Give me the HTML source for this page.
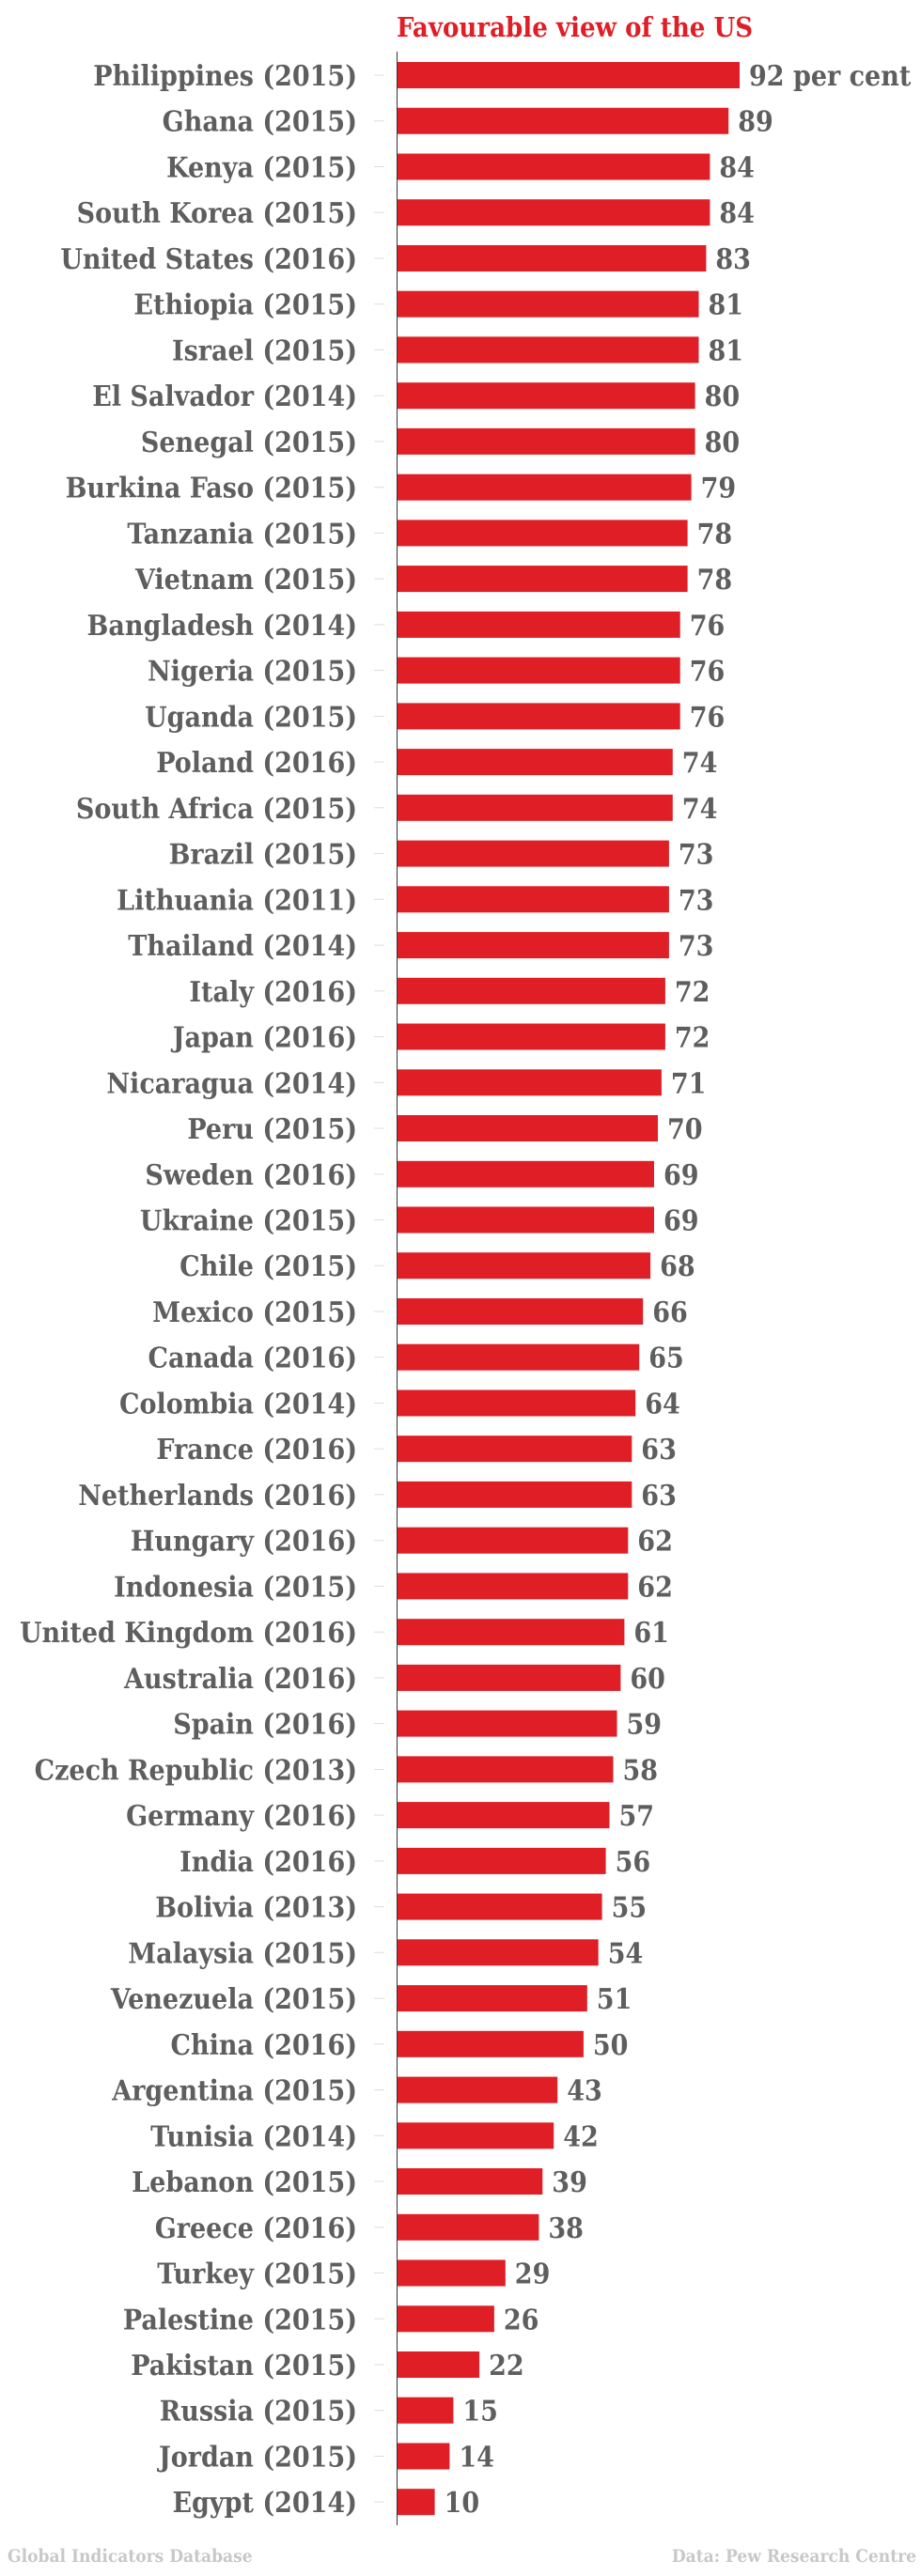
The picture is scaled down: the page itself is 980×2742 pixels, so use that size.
<!DOCTYPE html>
<html><head><meta charset="utf-8"><style>
html,body{margin:0;padding:0;background:#fff;}
svg text{font-family:"DejaVu Serif Condensed","DejaVu Serif","Liberation Serif",serif;font-weight:bold;}
.b{fill:#e01e26}
.t{stroke:#ddd;stroke-width:1}
.l{font-size:30px;fill:#5e5e5e;text-anchor:end}
.v{font-size:30px;fill:#5e5e5e}
</style></head><body>
<svg width="980" height="2737" viewBox="0 0 980 2737" xmlns="http://www.w3.org/2000/svg">
<text x="422" y="39" font-size="29" fill="#e01e26">Favourable view of the US</text>
<line x1="422.5" y1="55" x2="422.5" y2="2688" stroke="#333" stroke-width="1"/>
<g transform="translate(0,66)"><rect class="b" x="423" y="0" width="364" height="28"/><line class="t" x1="398" x2="409" y1="14" y2="14"/><text class="l" x="380" y="25">Philippines (2015)</text><text class="v" x="797" y="25">92 per cent</text></g>
<g transform="translate(0,114.7)"><rect class="b" x="423" y="0" width="352.2" height="28"/><line class="t" x1="398" x2="409" y1="14" y2="14"/><text class="l" x="380" y="25">Ghana (2015)</text><text class="v" x="785.2" y="25">89</text></g>
<g transform="translate(0,163.5)"><rect class="b" x="423" y="0" width="332.4" height="28"/><line class="t" x1="398" x2="409" y1="14" y2="14"/><text class="l" x="380" y="25">Kenya (2015)</text><text class="v" x="765.4" y="25">84</text></g>
<g transform="translate(0,212.2)"><rect class="b" x="423" y="0" width="332.4" height="28"/><line class="t" x1="398" x2="409" y1="14" y2="14"/><text class="l" x="380" y="25">South Korea (2015)</text><text class="v" x="765.4" y="25">84</text></g>
<g transform="translate(0,261)"><rect class="b" x="423" y="0" width="328.4" height="28"/><line class="t" x1="398" x2="409" y1="14" y2="14"/><text class="l" x="380" y="25">United States (2016)</text><text class="v" x="761.4" y="25">83</text></g>
<g transform="translate(0,309.7)"><rect class="b" x="423" y="0" width="320.5" height="28"/><line class="t" x1="398" x2="409" y1="14" y2="14"/><text class="l" x="380" y="25">Ethiopia (2015)</text><text class="v" x="753.5" y="25">81</text></g>
<g transform="translate(0,358.4)"><rect class="b" x="423" y="0" width="320.5" height="28"/><line class="t" x1="398" x2="409" y1="14" y2="14"/><text class="l" x="380" y="25">Israel (2015)</text><text class="v" x="753.5" y="25">81</text></g>
<g transform="translate(0,407.2)"><rect class="b" x="423" y="0" width="316.6" height="28"/><line class="t" x1="398" x2="409" y1="14" y2="14"/><text class="l" x="380" y="25">El Salvador (2014)</text><text class="v" x="749.6" y="25">80</text></g>
<g transform="translate(0,455.9)"><rect class="b" x="423" y="0" width="316.6" height="28"/><line class="t" x1="398" x2="409" y1="14" y2="14"/><text class="l" x="380" y="25">Senegal (2015)</text><text class="v" x="749.6" y="25">80</text></g>
<g transform="translate(0,504.7)"><rect class="b" x="423" y="0" width="312.6" height="28"/><line class="t" x1="398" x2="409" y1="14" y2="14"/><text class="l" x="380" y="25">Burkina Faso (2015)</text><text class="v" x="745.6" y="25">79</text></g>
<g transform="translate(0,553.4)"><rect class="b" x="423" y="0" width="308.6" height="28"/><line class="t" x1="398" x2="409" y1="14" y2="14"/><text class="l" x="380" y="25">Tanzania (2015)</text><text class="v" x="741.6" y="25">78</text></g>
<g transform="translate(0,602.1)"><rect class="b" x="423" y="0" width="308.6" height="28"/><line class="t" x1="398" x2="409" y1="14" y2="14"/><text class="l" x="380" y="25">Vietnam (2015)</text><text class="v" x="741.6" y="25">78</text></g>
<g transform="translate(0,650.9)"><rect class="b" x="423" y="0" width="300.7" height="28"/><line class="t" x1="398" x2="409" y1="14" y2="14"/><text class="l" x="380" y="25">Bangladesh (2014)</text><text class="v" x="733.7" y="25">76</text></g>
<g transform="translate(0,699.6)"><rect class="b" x="423" y="0" width="300.7" height="28"/><line class="t" x1="398" x2="409" y1="14" y2="14"/><text class="l" x="380" y="25">Nigeria (2015)</text><text class="v" x="733.7" y="25">76</text></g>
<g transform="translate(0,748.4)"><rect class="b" x="423" y="0" width="300.7" height="28"/><line class="t" x1="398" x2="409" y1="14" y2="14"/><text class="l" x="380" y="25">Uganda (2015)</text><text class="v" x="733.7" y="25">76</text></g>
<g transform="translate(0,797.1)"><rect class="b" x="423" y="0" width="292.8" height="28"/><line class="t" x1="398" x2="409" y1="14" y2="14"/><text class="l" x="380" y="25">Poland (2016)</text><text class="v" x="725.8" y="25">74</text></g>
<g transform="translate(0,845.8)"><rect class="b" x="423" y="0" width="292.8" height="28"/><line class="t" x1="398" x2="409" y1="14" y2="14"/><text class="l" x="380" y="25">South Africa (2015)</text><text class="v" x="725.8" y="25">74</text></g>
<g transform="translate(0,894.6)"><rect class="b" x="423" y="0" width="288.9" height="28"/><line class="t" x1="398" x2="409" y1="14" y2="14"/><text class="l" x="380" y="25">Brazil (2015)</text><text class="v" x="721.9" y="25">73</text></g>
<g transform="translate(0,943.3)"><rect class="b" x="423" y="0" width="288.9" height="28"/><line class="t" x1="398" x2="409" y1="14" y2="14"/><text class="l" x="380" y="25">Lithuania (2011)</text><text class="v" x="721.9" y="25">73</text></g>
<g transform="translate(0,992.1)"><rect class="b" x="423" y="0" width="288.9" height="28"/><line class="t" x1="398" x2="409" y1="14" y2="14"/><text class="l" x="380" y="25">Thailand (2014)</text><text class="v" x="721.9" y="25">73</text></g>
<g transform="translate(0,1040.8)"><rect class="b" x="423" y="0" width="284.9" height="28"/><line class="t" x1="398" x2="409" y1="14" y2="14"/><text class="l" x="380" y="25">Italy (2016)</text><text class="v" x="717.9" y="25">72</text></g>
<g transform="translate(0,1089.5)"><rect class="b" x="423" y="0" width="284.9" height="28"/><line class="t" x1="398" x2="409" y1="14" y2="14"/><text class="l" x="380" y="25">Japan (2016)</text><text class="v" x="717.9" y="25">72</text></g>
<g transform="translate(0,1138.3)"><rect class="b" x="423" y="0" width="280.9" height="28"/><line class="t" x1="398" x2="409" y1="14" y2="14"/><text class="l" x="380" y="25">Nicaragua (2014)</text><text class="v" x="713.9" y="25">71</text></g>
<g transform="translate(0,1187)"><rect class="b" x="423" y="0" width="277" height="28"/><line class="t" x1="398" x2="409" y1="14" y2="14"/><text class="l" x="380" y="25">Peru (2015)</text><text class="v" x="710" y="25">70</text></g>
<g transform="translate(0,1235.8)"><rect class="b" x="423" y="0" width="273" height="28"/><line class="t" x1="398" x2="409" y1="14" y2="14"/><text class="l" x="380" y="25">Sweden (2016)</text><text class="v" x="706" y="25">69</text></g>
<g transform="translate(0,1284.5)"><rect class="b" x="423" y="0" width="273" height="28"/><line class="t" x1="398" x2="409" y1="14" y2="14"/><text class="l" x="380" y="25">Ukraine (2015)</text><text class="v" x="706" y="25">69</text></g>
<g transform="translate(0,1333.2)"><rect class="b" x="423" y="0" width="269.1" height="28"/><line class="t" x1="398" x2="409" y1="14" y2="14"/><text class="l" x="380" y="25">Chile (2015)</text><text class="v" x="702.1" y="25">68</text></g>
<g transform="translate(0,1382)"><rect class="b" x="423" y="0" width="261.2" height="28"/><line class="t" x1="398" x2="409" y1="14" y2="14"/><text class="l" x="380" y="25">Mexico (2015)</text><text class="v" x="694.2" y="25">66</text></g>
<g transform="translate(0,1430.7)"><rect class="b" x="423" y="0" width="257.2" height="28"/><line class="t" x1="398" x2="409" y1="14" y2="14"/><text class="l" x="380" y="25">Canada (2016)</text><text class="v" x="690.2" y="25">65</text></g>
<g transform="translate(0,1479.5)"><rect class="b" x="423" y="0" width="253.2" height="28"/><line class="t" x1="398" x2="409" y1="14" y2="14"/><text class="l" x="380" y="25">Colombia (2014)</text><text class="v" x="686.2" y="25">64</text></g>
<g transform="translate(0,1528.2)"><rect class="b" x="423" y="0" width="249.3" height="28"/><line class="t" x1="398" x2="409" y1="14" y2="14"/><text class="l" x="380" y="25">France (2016)</text><text class="v" x="682.3" y="25">63</text></g>
<g transform="translate(0,1576.9)"><rect class="b" x="423" y="0" width="249.3" height="28"/><line class="t" x1="398" x2="409" y1="14" y2="14"/><text class="l" x="380" y="25">Netherlands (2016)</text><text class="v" x="682.3" y="25">63</text></g>
<g transform="translate(0,1625.7)"><rect class="b" x="423" y="0" width="245.3" height="28"/><line class="t" x1="398" x2="409" y1="14" y2="14"/><text class="l" x="380" y="25">Hungary (2016)</text><text class="v" x="678.3" y="25">62</text></g>
<g transform="translate(0,1674.4)"><rect class="b" x="423" y="0" width="245.3" height="28"/><line class="t" x1="398" x2="409" y1="14" y2="14"/><text class="l" x="380" y="25">Indonesia (2015)</text><text class="v" x="678.3" y="25">62</text></g>
<g transform="translate(0,1723.2)"><rect class="b" x="423" y="0" width="241.4" height="28"/><line class="t" x1="398" x2="409" y1="14" y2="14"/><text class="l" x="380" y="25">United Kingdom (2016)</text><text class="v" x="674.4" y="25">61</text></g>
<g transform="translate(0,1771.9)"><rect class="b" x="423" y="0" width="237.4" height="28"/><line class="t" x1="398" x2="409" y1="14" y2="14"/><text class="l" x="380" y="25">Australia (2016)</text><text class="v" x="670.4" y="25">60</text></g>
<g transform="translate(0,1820.6)"><rect class="b" x="423" y="0" width="233.5" height="28"/><line class="t" x1="398" x2="409" y1="14" y2="14"/><text class="l" x="380" y="25">Spain (2016)</text><text class="v" x="666.5" y="25">59</text></g>
<g transform="translate(0,1869.4)"><rect class="b" x="423" y="0" width="229.5" height="28"/><line class="t" x1="398" x2="409" y1="14" y2="14"/><text class="l" x="380" y="25">Czech Republic (2013)</text><text class="v" x="662.5" y="25">58</text></g>
<g transform="translate(0,1918.1)"><rect class="b" x="423" y="0" width="225.5" height="28"/><line class="t" x1="398" x2="409" y1="14" y2="14"/><text class="l" x="380" y="25">Germany (2016)</text><text class="v" x="658.5" y="25">57</text></g>
<g transform="translate(0,1966.9)"><rect class="b" x="423" y="0" width="221.6" height="28"/><line class="t" x1="398" x2="409" y1="14" y2="14"/><text class="l" x="380" y="25">India (2016)</text><text class="v" x="654.6" y="25">56</text></g>
<g transform="translate(0,2015.6)"><rect class="b" x="423" y="0" width="217.6" height="28"/><line class="t" x1="398" x2="409" y1="14" y2="14"/><text class="l" x="380" y="25">Bolivia (2013)</text><text class="v" x="650.6" y="25">55</text></g>
<g transform="translate(0,2064.3)"><rect class="b" x="423" y="0" width="213.7" height="28"/><line class="t" x1="398" x2="409" y1="14" y2="14"/><text class="l" x="380" y="25">Malaysia (2015)</text><text class="v" x="646.7" y="25">54</text></g>
<g transform="translate(0,2113.1)"><rect class="b" x="423" y="0" width="201.8" height="28"/><line class="t" x1="398" x2="409" y1="14" y2="14"/><text class="l" x="380" y="25">Venezuela (2015)</text><text class="v" x="634.8" y="25">51</text></g>
<g transform="translate(0,2161.8)"><rect class="b" x="423" y="0" width="197.9" height="28"/><line class="t" x1="398" x2="409" y1="14" y2="14"/><text class="l" x="380" y="25">China (2016)</text><text class="v" x="630.9" y="25">50</text></g>
<g transform="translate(0,2210.6)"><rect class="b" x="423" y="0" width="170.2" height="28"/><line class="t" x1="398" x2="409" y1="14" y2="14"/><text class="l" x="380" y="25">Argentina (2015)</text><text class="v" x="603.2" y="25">43</text></g>
<g transform="translate(0,2259.3)"><rect class="b" x="423" y="0" width="166.2" height="28"/><line class="t" x1="398" x2="409" y1="14" y2="14"/><text class="l" x="380" y="25">Tunisia (2014)</text><text class="v" x="599.2" y="25">42</text></g>
<g transform="translate(0,2308)"><rect class="b" x="423" y="0" width="154.3" height="28"/><line class="t" x1="398" x2="409" y1="14" y2="14"/><text class="l" x="380" y="25">Lebanon (2015)</text><text class="v" x="587.3" y="25">39</text></g>
<g transform="translate(0,2356.8)"><rect class="b" x="423" y="0" width="150.4" height="28"/><line class="t" x1="398" x2="409" y1="14" y2="14"/><text class="l" x="380" y="25">Greece (2016)</text><text class="v" x="583.4" y="25">38</text></g>
<g transform="translate(0,2405.5)"><rect class="b" x="423" y="0" width="114.8" height="28"/><line class="t" x1="398" x2="409" y1="14" y2="14"/><text class="l" x="380" y="25">Turkey (2015)</text><text class="v" x="547.8" y="25">29</text></g>
<g transform="translate(0,2454.3)"><rect class="b" x="423" y="0" width="102.9" height="28"/><line class="t" x1="398" x2="409" y1="14" y2="14"/><text class="l" x="380" y="25">Palestine (2015)</text><text class="v" x="535.9" y="25">26</text></g>
<g transform="translate(0,2503)"><rect class="b" x="423" y="0" width="87.1" height="28"/><line class="t" x1="398" x2="409" y1="14" y2="14"/><text class="l" x="380" y="25">Pakistan (2015)</text><text class="v" x="520.1" y="25">22</text></g>
<g transform="translate(0,2551.7)"><rect class="b" x="423" y="0" width="59.4" height="28"/><line class="t" x1="398" x2="409" y1="14" y2="14"/><text class="l" x="380" y="25">Russia (2015)</text><text class="v" x="492.4" y="25">15</text></g>
<g transform="translate(0,2600.5)"><rect class="b" x="423" y="0" width="55.4" height="28"/><line class="t" x1="398" x2="409" y1="14" y2="14"/><text class="l" x="380" y="25">Jordan (2015)</text><text class="v" x="488.4" y="25">14</text></g>
<g transform="translate(0,2649.2)"><rect class="b" x="423" y="0" width="39.6" height="28"/><line class="t" x1="398" x2="409" y1="14" y2="14"/><text class="l" x="380" y="25">Egypt (2014)</text><text class="v" x="472.6" y="25">10</text></g>
<text x="8" y="2727" font-size="19" fill="#c8c8c8">Global Indicators Database</text>
<text x="975" y="2727" font-size="19" fill="#c8c8c8" text-anchor="end">Data: Pew Research Centre</text>
</svg>
</body></html>
